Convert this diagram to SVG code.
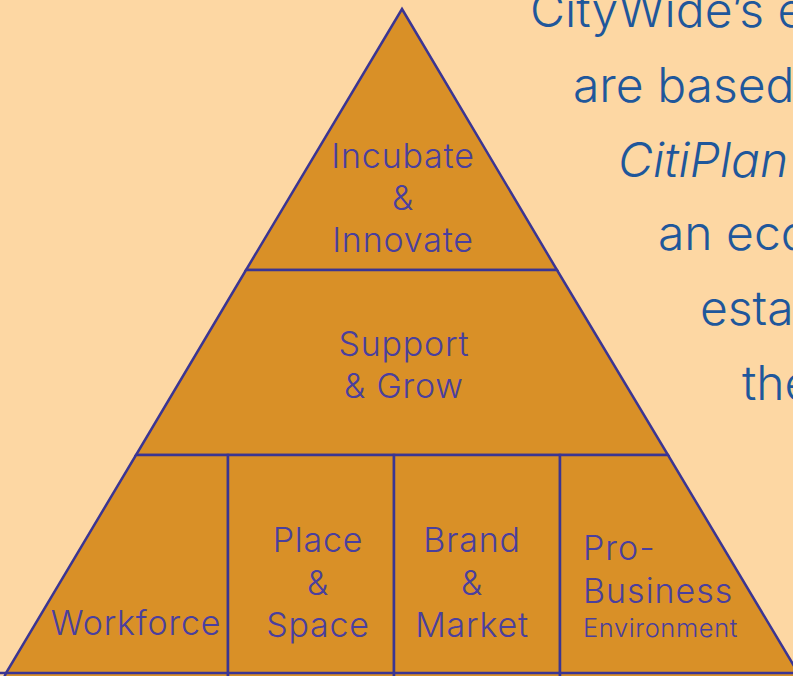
<svg xmlns="http://www.w3.org/2000/svg" width="793" height="676" viewBox="0 0 793 676">
<style>
.bg{fill:#FDD7A3}
.tier{fill:#D99027;stroke:#3B3593;stroke-width:2.5;stroke-linejoin:miter}
.lbl{font-family:Inter,"Liberation Sans",Arial,sans-serif;font-weight:300;font-size:34px;letter-spacing:0.8px;fill:#4A3F9E;text-anchor:middle}
.lbl2{font-family:Inter,"Liberation Sans",Arial,sans-serif;font-weight:300;font-size:34px;letter-spacing:1px;fill:#4A3F9E}
.sm{font-size:25.5px;letter-spacing:0.6px}
.side{font-family:Inter,"Liberation Sans",Arial,sans-serif;font-weight:300;font-size:48px;fill:#1F579B}
</style>
<rect class="bg" x="0" y="0" width="793" height="676"/>
<g id="pyramid">
<g id="incubate">
<polygon class="tier" points="402,9 557,270 246,270"/>
<text class="lbl" x="403" y="168">Incubate</text>
<text class="lbl" x="403" y="210">&amp;</text>
<text class="lbl" x="403" y="252">Innovate</text>
</g>
<g id="support">
<polygon class="tier" points="246,270 557,270 668,455 136,455"/>
<text class="lbl" x="404" y="356">Support</text>
<text class="lbl" x="404" y="398">&amp; Grow</text>
</g>
<g id="workforce">
<polygon class="tier" points="136,455 228,455 228,680 3,680 6,673"/>
<text class="lbl" x="136" y="635">Workforce</text>
</g>
<g id="place">
<rect class="tier" x="228" y="455" width="166" height="225"/>
<text class="lbl" x="318" y="552">Place</text>
<text class="lbl" x="318" y="595">&amp;</text>
<text class="lbl" x="318" y="637">Space</text>
</g>
<g id="brand">
<rect class="tier" x="394" y="455" width="166" height="225"/>
<text class="lbl" x="472" y="552">Brand</text>
<text class="lbl" x="472" y="595">&amp;</text>
<text class="lbl" x="472" y="637">Market</text>
</g>
<g id="probusiness">
<polygon class="tier" points="560,455 668,455 800,676 800,680 560,680"/>
<text class="lbl2" x="583" y="560">Pro-</text>
<text class="lbl2" x="583" y="603">Business</text>
<text class="lbl2 sm" x="583" y="637">Environment</text>
</g>
<line x1="0" y1="673" x2="793" y2="673" stroke="#3B3593" stroke-width="2.5"/>
</g>
<g id="side-text">
<text class="side" x="530" y="27">CityWide’s e</text>
<text class="side" x="573" y="102">are based</text>
<text class="side" x="618" y="177" font-style="italic">CitiPlan</text>
<text class="side" x="658" y="250">an eco</text>
<text class="side" x="700" y="325">esta</text>
<text class="side" x="742" y="400">the</text>
</g>
</svg>
